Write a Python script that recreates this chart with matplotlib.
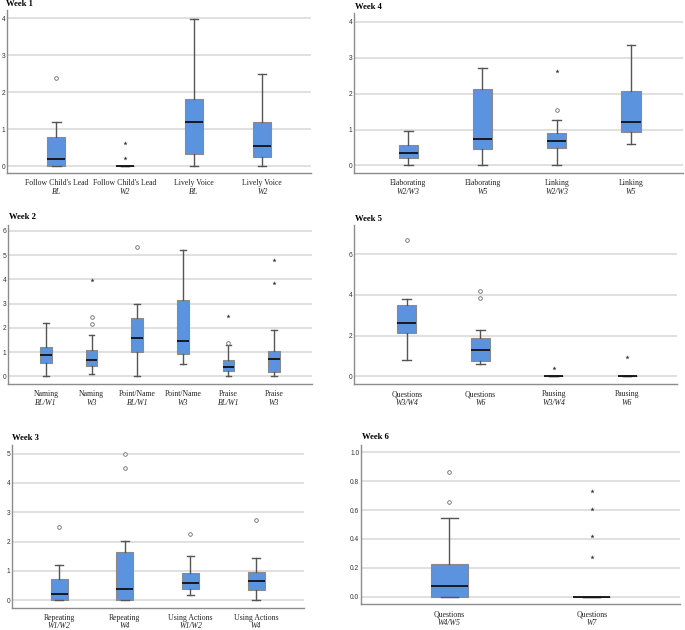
import matplotlib
matplotlib.use('Agg')
import matplotlib.pyplot as plt

plt.rcParams.update({'font.family': 'Liberation Sans'})

W, H = 685, 630

# ---- data: (low whisker, Q1, median, Q3, high whisker)
w1_labels = [("Follow Child's Lead", "BL"), ("Follow Child's Lead", "W2"),
             ("Lively Voice", "BL"), ("Lively Voice", "W2")]
w1_stats = [(0, 0, 0.20, 0.80, 1.20), (0, 0, 0, 0, 0),
            (0, 0.32, 1.20, 1.81, 3.97), (0, 0.24, 0.55, 1.19, 2.48)]
w1_circles = [[2.38], [], [], []]
w1_stars = [[], [0.22, 0.62], [], []]

w2_labels = [("Naming", "BL/W1"), ("Naming", "W3"), ("Point/Name", "BL/W1"),
             ("Point/Name", "W3"), ("Praise", "BL/W1"), ("Praise", "W3")]
w2_stats = [(0, 0.54, 0.87, 1.21, 2.19), (0.10, 0.41, 0.67, 1.09, 1.71),
            (0, 0.99, 1.57, 2.41, 2.97), (0.50, 0.91, 1.47, 3.16, 5.19),
            (0, 0.21, 0.37, 0.65, 1.28), (0, 0.19, 0.70, 1.06, 1.91)]
w2_circles = [[], [2.16, 2.46], [5.32], [], [1.39], []]
w2_stars = [[], [3.98], [], [], [2.50], [3.84, 4.80]]

w3_labels = [("Repeating", "W1/W2"), ("Repeating", "W4"),
             ("Using Actions", "W1/W2"), ("Using Actions", "W4")]
w3_stats = [(0, 0, 0.23, 0.73, 1.20), (0, 0, 0.38, 1.63, 2.03),
            (0.18, 0.37, 0.59, 0.92, 1.51), (0, 0.34, 0.65, 0.96, 1.43)]
w3_circles = [[2.51], [4.50, 4.99], [2.26], [2.74]]
w3_stars = [[], [], [], []]

w4_labels = [("Elaborating", "W2/W3"), ("Elaborating", "W5"),
             ("Linking", "W2/W3"), ("Linking", "W5")]
w4_stats = [(0, 0.22, 0.34, 0.58, 0.95), (0, 0.45, 0.73, 2.14, 2.72),
            (0, 0.50, 0.68, 0.90, 1.26), (0.60, 0.92, 1.20, 2.07, 3.37)]
w4_circles = [[], [], [1.54], []]
w4_stars = [[], [], [2.64], []]

w5_labels = [("Questions", "W3/W4"), ("Questions", "W6"),
             ("Pausing", "W3/W4"), ("Pausing", "W6")]
w5_stats = [(0.79, 2.11, 2.60, 3.49, 3.79), (0.59, 0.75, 1.28, 1.87, 2.28),
            (0, 0, 0, 0, 0), (0, 0, 0, 0, 0)]
w5_circles = [[6.70], [3.84, 4.21], [], []]
w5_stars = [[], [], [0.39], [0.93]]

w6_labels = [("Questions", "W4/W5"), ("Questions", "W7")]
w6_stats = [(0, 0, 0.072, 0.227, 0.542), (0, 0, 0, 0, 0)]
w6_circles = [[0.653, 0.866], []]
w6_stars = [[], [0.273, 0.417, 0.606, 0.734]]

BOX = '#5b93df'
GRID = '#dadada'
SPINE = '#8c8c8c'


def panel(fig, title, rect, tpos, labels, stats, circles, stars,
          ylim, yticks, xlim, fmt='{:g}', offs=(-7.3, -13.8)):
    l, t, r, b = rect
    ax = fig.add_axes([l / W, 1 - b / H, (r - l) / W, (b - t) / H])
    bstats = []
    for (lo, q1, med, q3, hi), c in zip(stats, circles):
        bstats.append(dict(whislo=lo, q1=q1, med=med, q3=q3, whishi=hi, fliers=c))
    pos = list(range(1, len(stats) + 1))
    ax.bxp(bstats, positions=pos, widths=0.26, patch_artist=True,
           capwidths=0.12,
           boxprops=dict(facecolor=BOX, edgecolor='#8a8a8a', linewidth=0.8),
           medianprops=dict(color='#111111', linewidth=1.3),
           whiskerprops=dict(color='#555555', linewidth=1.0),
           capprops=dict(color='#555555', linewidth=1.0),
           flierprops=dict(marker='o', markersize=2.6, markerfacecolor='white',
                           markeredgecolor='#6a6a6a', markeredgewidth=0.6))
    for p, s in zip(pos, stars):
        if s:
            ax.plot([p] * len(s), s, linestyle='none', marker='*',
                    markersize=3.2, color='#333333', markeredgewidth=0)
    ax.set_xlim(*xlim)
    ax.set_ylim(*ylim)
    ax.set_yticks(yticks)
    ax.set_yticklabels([fmt.format(v) for v in yticks])
    ax.tick_params(axis='y', labelsize=4.8, length=0, pad=1.3,
                   colors='#333333')
    ax.set_xticks([])
    ax.grid(axis='y', color=GRID, linewidth=1.2)
    ax.set_axisbelow(True)
    for s in ['top', 'right']:
        ax.spines[s].set_visible(False)
    for s in ['left', 'bottom']:
        ax.spines[s].set_color(SPINE)
        ax.spines[s].set_linewidth(1.0)
    for p, (name, wk) in zip(pos, labels):
        ax.annotate(name, xy=(p, 0), xycoords=('data', 'axes fraction'),
                    xytext=(0, offs[0]), textcoords='offset points',
                    ha='center', va='center', fontsize=5.6,
                    family='Liberation Serif', color='#222222')
        ax.annotate(wk, xy=(p, 0), xycoords=('data', 'axes fraction'),
                    xytext=(0, offs[1]), textcoords='offset points',
                    ha='center', va='center', fontsize=5.6, style='italic',
                    family='Liberation Serif', color='#222222')
    fig.text(tpos[0] / W, 1 - tpos[1] / H, title, ha='left', va='center',
             fontsize=6.2, fontweight='bold', family='Liberation Serif')
    return ax


fig = plt.figure(figsize=(6.85, 6.3), dpi=100)

panel(fig, 'Week 1', (7, 10, 311, 173), (6, 4), w1_labels, w1_stats,
      w1_circles, w1_stars, (-0.18, 4.22), [0, 1, 2, 3, 4], (0.28, 4.71))
panel(fig, 'Week 4', (354, 13, 683, 173), (355, 7), w4_labels, w4_stats,
      w4_circles, w4_stars, (-0.21, 4.25), [0, 1, 2, 3, 4], (0.27, 4.70))
panel(fig, 'Week 2', (8, 225, 312, 384), (9, 217), w2_labels, w2_stats,
      w2_circles, w2_stars, (-0.32, 6.24), [0, 1, 2, 3, 4, 5, 6], (0.17, 6.83))
panel(fig, 'Week 5', (354, 225, 677, 384), (355, 219), w5_labels, w5_stats,
      w5_circles, w5_stars, (-0.38, 7.44), [0, 2, 4, 6], (0.28, 4.68))
panel(fig, 'Week 3', (12, 445, 304, 608), (12, 438), w3_labels, w3_stats,
      w3_circles, w3_stars, (-0.26, 5.29), [0, 1, 2, 3, 4, 5], (0.28, 4.73),
      offs=(-7.0, -12.6))
panel(fig, 'Week 6', (361, 445, 680, 604), (362, 437), w6_labels, w6_stats,
      w6_circles, w6_stars, (-0.05, 1.05), [0.0, 0.2, 0.4, 0.6, 0.8, 1.0],
      (0.38, 2.62), fmt='{:.1f}')

fig.savefig('out.png', dpi=100)
